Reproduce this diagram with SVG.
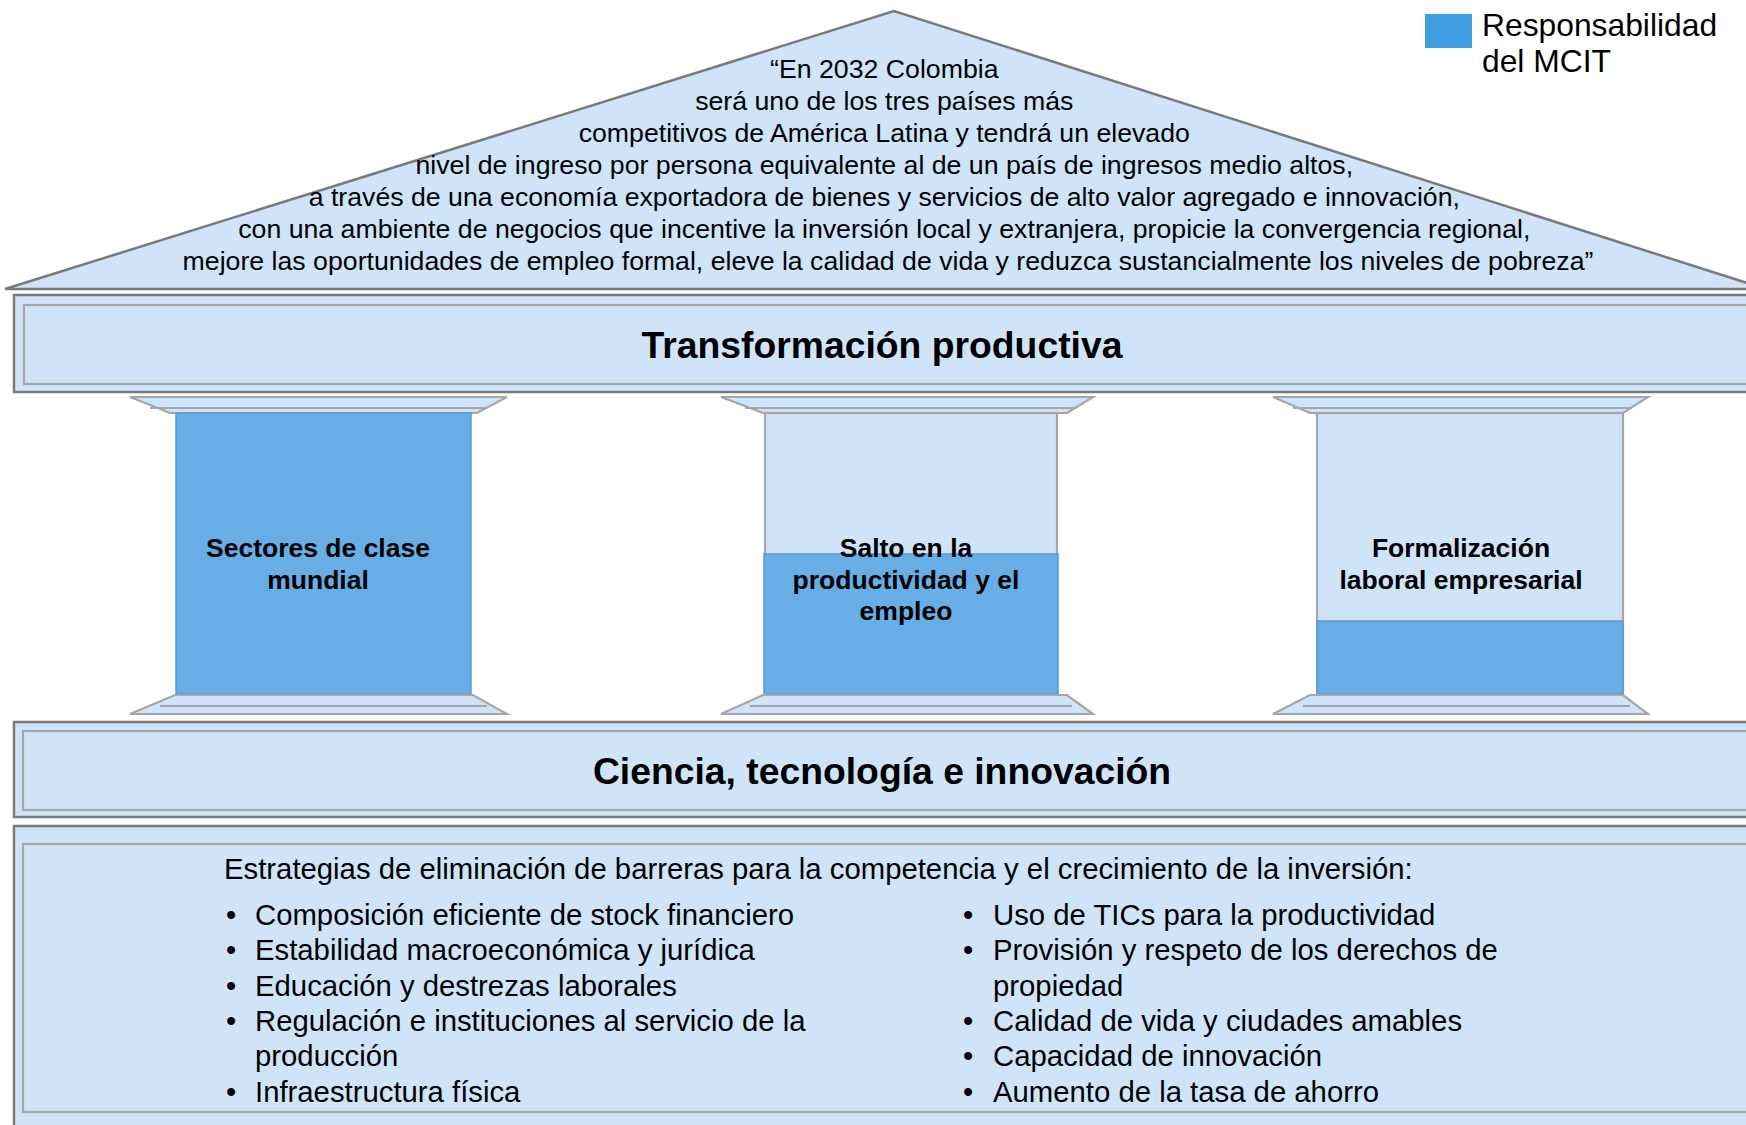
<svg xmlns="http://www.w3.org/2000/svg" width="1746" height="1125" viewBox="0 0 1746 1125">
<style>
.fill{fill:#cfe4f9}
.dk{stroke:#7a7a7a;stroke-width:2.5;fill:#cfe4f9}
.lt{stroke:#a6a6a6;stroke-width:2.2;fill:#cfe4f9}
.ln{stroke:#a6a6a6;stroke-width:2.2;fill:none}
.blue{fill:#67aee6;stroke:#5b9bd0;stroke-width:1.5}
.t{font-family:"Liberation Sans",Arial,sans-serif;fill:#000}
.roof{font-size:26.7px;text-anchor:middle}
.title{font-size:37.3px;font-weight:bold;text-anchor:middle}
.pil{font-size:26.5px;font-weight:bold;text-anchor:middle}
.body{font-size:29.3px}
.leg{font-size:31.8px}
</style>
<rect width="1746" height="1125" fill="#ffffff"/>

<g id="roof">
<polygon class="dk" points="5,289 894,11 1766,289"/>
<text class="t roof">
<tspan x="888" y="78">“En 2032 Colombia</tspan>
<tspan x="888" y="110">será uno de los tres países más</tspan>
<tspan x="888" y="142">competitivos de América Latina y tendrá un elevado</tspan>
<tspan x="888" y="174">nivel de ingreso por persona equivalente al de un país de ingresos medio altos,</tspan>
<tspan x="888" y="206">a través de una economía exportadora de bienes y servicios de alto valor agregado e innovación,</tspan>
<tspan x="888" y="238">con una ambiente de negocios que incentive la inversión local y extranjera, propicie la convergencia regional,</tspan>
<tspan x="888" y="270">mejore las oportunidades de empleo formal, eleve la calidad de vida y reduzca sustancialmente los niveles de pobreza”</tspan>
</text>
</g>

<g id="legend">
<rect x="1425" y="14" width="47" height="34" fill="#409de0"/>
<text class="t leg"><tspan x="1482" y="36">Responsabilidad</tspan><tspan x="1482" y="72">del MCIT</tspan></text>
</g>

<g id="band-transformacion">
<rect class="dk" x="14" y="295" width="1760" height="97"/>
<rect class="lt" x="24" y="305" width="1740" height="79"/>
<text class="t title" x="882" y="358">Transformación productiva</text>
</g>

<g id="pillar-sectores">
<polygon class="lt" points="130,397 507,397 477,413 170,413"/>
<line class="ln" x1="150" y1="408" x2="487" y2="408"/>
<rect class="blue" x="176" y="413" width="295" height="281"/>
<polygon class="lt" points="175,695 473,695 507,714 130,714"/>
<line class="ln" x1="160" y1="706" x2="487" y2="706"/>
<text class="t pil"><tspan x="318" y="557">Sectores de clase</tspan><tspan x="318" y="589">mundial</tspan></text>
</g>

<g id="pillar-salto">
<polygon class="lt" points="721,397 1093,397 1067,413 763,413"/>
<line class="ln" x1="745" y1="408" x2="1077" y2="408"/>
<rect class="lt" x="765" y="413" width="292" height="281"/>
<rect class="blue" x="764" y="554" width="294" height="140"/>
<polygon class="lt" points="763,695 1067,695 1093,714 721,714"/>
<line class="ln" x1="750" y1="706" x2="1072" y2="706"/>
<text class="t pil"><tspan x="906" y="557">Salto en la</tspan><tspan x="906" y="589">productividad y el</tspan><tspan x="906" y="620">empleo</tspan></text>
</g>

<g id="pillar-formalizacion">
<polygon class="lt" points="1273,397 1648,397 1623,413 1310,413"/>
<line class="ln" x1="1293" y1="408" x2="1632" y2="408"/>
<rect class="lt" x="1317" y="413" width="306" height="281"/>
<rect class="blue" x="1317" y="621" width="306" height="73"/>
<polygon class="lt" points="1310,695 1623,695 1648,714 1273,714"/>
<line class="ln" x1="1303" y1="706" x2="1630" y2="706"/>
<text class="t pil"><tspan x="1461" y="557">Formalización</tspan><tspan x="1461" y="589">laboral empresarial</tspan></text>
</g>

<g id="band-ciencia">
<rect class="dk" x="14" y="722" width="1760" height="95"/>
<rect class="lt" x="23" y="731" width="1740" height="79"/>
<text class="t title" x="882" y="784">Ciencia, tecnología e innovación</text>
</g>

<g id="band-estrategias">
<rect class="dk" x="14" y="826" width="1760" height="320"/>
<rect class="lt" x="23" y="844" width="1740" height="268"/>
<text class="t body" x="224" y="879">Estrategias de eliminación de barreras para la competencia y el crecimiento de la inversión:</text>
<text class="t body">
<tspan x="226" y="925">•</tspan><tspan x="255" y="925">Composición eficiente de stock financiero</tspan>
<tspan x="226" y="960">•</tspan><tspan x="255" y="960">Estabilidad macroeconómica y jurídica</tspan>
<tspan x="226" y="996">•</tspan><tspan x="255" y="996">Educación y destrezas laborales</tspan>
<tspan x="226" y="1031">•</tspan><tspan x="255" y="1031">Regulación e instituciones al servicio de la</tspan>
<tspan x="255" y="1066">producción</tspan>
<tspan x="226" y="1102">•</tspan><tspan x="255" y="1102">Infraestructura física</tspan>
</text>
<text class="t body">
<tspan x="963" y="925">•</tspan><tspan x="993" y="925">Uso de TICs para la productividad</tspan>
<tspan x="963" y="960">•</tspan><tspan x="993" y="960">Provisión y respeto de los derechos de</tspan>
<tspan x="993" y="996">propiedad</tspan>
<tspan x="963" y="1031">•</tspan><tspan x="993" y="1031">Calidad de vida y ciudades amables</tspan>
<tspan x="963" y="1066">•</tspan><tspan x="993" y="1066">Capacidad de innovación</tspan>
<tspan x="963" y="1102">•</tspan><tspan x="993" y="1102">Aumento de la tasa de ahorro</tspan>
</text>
</g>

<g id="connectors"></g>
</svg>
